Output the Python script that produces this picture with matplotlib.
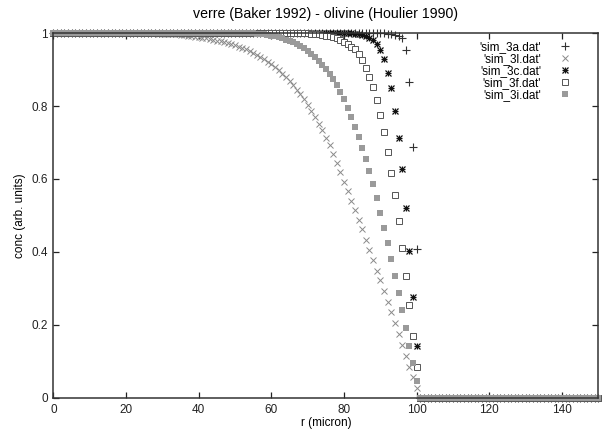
"""
Diffusion profiles verre - olivine (gnuplot-style scatter of sim_3*.dat)
"""
import matplotlib

matplotlib.use("Agg")
import matplotlib.pyplot as plt
import matplotlib.ticker
import numpy as np

plt.rcParams["font.family"] = ["Liberation Sans", "DejaVu Sans"]
plt.rcParams["font.size"] = 8.5

# radius (micron), one point per micron
R = np.arange(0, 151)

# concentrations: flat at 1 in the core, 0 beyond r = 100
SIM_3A = [1.0] * 90 + [
    0.999, 0.999, 0.998, 0.997, 0.995, 0.993, 0.986, 0.953, 0.866, 0.688, 0.408,
] + [0.0] * 50
SIM_3L = [1.0] * 25 + [
    0.999, 0.999, 0.999, 0.999, 0.998,
    0.998, 0.998, 0.997, 0.997, 0.996, 0.995, 0.994, 0.993, 0.992, 0.990,
    0.988, 0.987, 0.985, 0.983, 0.981, 0.979, 0.977, 0.975, 0.973, 0.970,
    0.967, 0.963, 0.959, 0.955, 0.950, 0.945, 0.940, 0.934, 0.928, 0.921,
    0.914, 0.906, 0.898, 0.889, 0.879, 0.868, 0.857, 0.845, 0.832, 0.818,
    0.803, 0.787, 0.770, 0.752, 0.733, 0.713, 0.692, 0.668, 0.643, 0.620,
    0.592, 0.567, 0.541, 0.514, 0.489, 0.462, 0.432, 0.405, 0.378, 0.349,
    0.322, 0.293, 0.263, 0.236, 0.205, 0.175, 0.145, 0.115, 0.085, 0.058,
    0.027,
] + [0.0] * 50
SIM_3C = [1.0] * 80 + [
    0.999, 0.999, 0.999, 0.998, 0.997, 0.995, 0.992, 0.987, 0.980, 0.969,
    0.953, 0.928, 0.891, 0.849, 0.787, 0.713, 0.627, 0.521, 0.404, 0.277,
    0.142,
] + [0.0] * 50
SIM_3F = [1.0] * 70 + [
    0.999, 0.998, 0.997, 0.996, 0.995, 0.993, 0.991, 0.988, 0.985, 0.981,
    0.976, 0.970, 0.963, 0.955, 0.943, 0.927, 0.905, 0.880, 0.851, 0.816,
    0.775, 0.730, 0.675, 0.617, 0.556, 0.486, 0.410, 0.334, 0.255, 0.170,
    0.086,
] + [0.0] * 50
SIM_3I = [1.0] * 55 + [
    0.999, 0.998, 0.997, 0.996, 0.995,
    0.993, 0.991, 0.988, 0.985, 0.982, 0.978, 0.974, 0.969, 0.964, 0.958,
    0.951, 0.943, 0.934, 0.924, 0.913, 0.901, 0.888, 0.873, 0.857, 0.839,
    0.818, 0.795, 0.770, 0.743, 0.714, 0.684, 0.654, 0.621, 0.587, 0.548,
    0.507, 0.466, 0.424, 0.380, 0.335, 0.288, 0.241, 0.193, 0.143, 0.095,
    0.047,
] + [0.0] * 50

LABELS = ["'sim_3a.dat'", "'sim_3l.dat'", "'sim_3c.dat'", "'sim_3f.dat'", "'sim_3i.dat'"]
X_TICKS = [0, 20, 40, 60, 80, 100, 120, 140]
Y_TICKS = [0, 0.2, 0.4, 0.6, 0.8, 1]


def plot_profiles():
    fig = plt.figure(figsize=(6.02, 4.36), dpi=100)
    ax = fig.add_axes([0.0887, 0.0872, 0.9053, 0.8371])
    ax.set_xlim(0, 150)
    ax.set_ylim(0, 1)

    kw = dict(linestyle="none", clip_on=False)
    h_a, = ax.plot(R, SIM_3A, marker="+", ms=5.5, mew=0.8, color="#333333", **kw)
    h_l, = ax.plot(R, SIM_3L, marker="x", ms=4.2, mew=0.7, color="#8a8a8a", **kw)
    # gnuplot asterisk = plus + cross on the same point
    h_c1, = ax.plot(R, SIM_3C, marker="+", ms=5, mew=0.9, color="#111111", **kw)
    h_c2, = ax.plot(R, SIM_3C, marker="x", ms=3.8, mew=0.9, color="#111111", **kw)
    h_f, = ax.plot(R, SIM_3F, marker="s", ms=4.6, mew=0.7, mfc="white",
                   mec="#555555", **kw)
    h_i, = ax.plot(R, SIM_3I, marker="s", ms=4.4, mew=0, color="#9a9a9a", **kw)

    ax.legend(
        [h_a, h_l, (h_c1, h_c2), h_f, h_i],
        LABELS,
        loc="upper right",
        bbox_to_anchor=(0.966, 1.0),
        frameon=False,
        markerfirst=False,
        handlelength=1.2,
        handletextpad=1.4,
        labelspacing=0.0,
        borderpad=0.2,
    )

    ax.set_xticks(X_TICKS)
    ax.set_yticks(Y_TICKS)
    fmt = matplotlib.ticker.FuncFormatter(lambda v, p: "%g" % v)
    ax.xaxis.set_major_formatter(fmt)
    ax.yaxis.set_major_formatter(fmt)
    ax.tick_params(direction="in", length=4, width=0.9, top=True, right=True,
                   colors="#222222", labelcolor="#222222", pad=4)
    for s in ax.spines.values():
        s.set_linewidth(1.1)
        s.set_color("#333333")

    ax.set_xlabel("r (micron)", labelpad=1)
    ax.set_ylabel("conc (arb. units)", labelpad=4)
    ax.set_title("verre (Baker 1992) - olivine (Houlier 1990)", pad=11)

    fig.savefig("out.png", dpi=100)


if __name__ == "__main__":
    plot_profiles()
